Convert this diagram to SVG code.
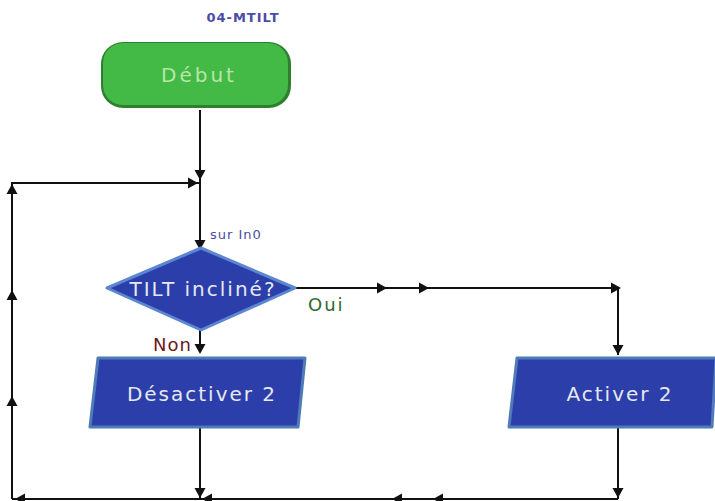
<svg xmlns="http://www.w3.org/2000/svg" width="715" height="501" viewBox="0 0 715 501">
  <style>
    .wire { fill: none; stroke: #111; stroke-width: 2; }
    .lbl { font-family: "DejaVu Sans", "Liberation Sans", sans-serif; }
    .node-text { font-family: "DejaVu Sans", "Liberation Sans", sans-serif; font-size: 20px; letter-spacing: 2px; fill: #e6e8f2; text-anchor: middle; }
    .proc { fill: #2b3ea9; stroke: #4f7bb8; stroke-width: 3; stroke-linejoin: round; }
  </style>
  <defs>
    <!-- arrowhead pointing right, tip at origin -->
    <path id="ah" d="M1,0 L-9,-5.5 L-9,5.5 Z" fill="#111"/>
  </defs>
  <rect width="715" height="501" fill="#ffffff"/>

  <!-- connectors -->
  <g id="connectors">
    <path class="wire" d="M200,110 V352"/>
    <path class="wire" d="M12,499 V183 H200"/>
    <path class="wire" d="M295,288 H618 V355"/>
    <path class="wire" d="M200,428 V499"/>
    <path class="wire" d="M618,428 V499"/>
    <path class="wire" d="M12,499 H618"/>
    <!-- arrowheads -->
    <use href="#ah" transform="translate(200,179) rotate(90)"/>
    <use href="#ah" transform="translate(197,183)"/>
    <use href="#ah" transform="translate(12,185) rotate(-90)"/>
    <use href="#ah" transform="translate(12,291) rotate(-90)"/>
    <use href="#ah" transform="translate(12,397) rotate(-90)"/>
    <use href="#ah" transform="translate(200,249) rotate(90)"/>
    <use href="#ah" transform="translate(200,353) rotate(90)"/>
    <use href="#ah" transform="translate(386,288)"/>
    <use href="#ah" transform="translate(428,288)"/>
    <use href="#ah" transform="translate(620,288)"/>
    <use href="#ah" transform="translate(618,354) rotate(90)"/>
    <use href="#ah" transform="translate(200,497) rotate(90)"/>
    <use href="#ah" transform="translate(618,497) rotate(90)"/>
    <use href="#ah" transform="translate(16,499) rotate(180)"/>
    <use href="#ah" transform="translate(203,499) rotate(180)"/>
    <use href="#ah" transform="translate(393,499) rotate(180)"/>
    <use href="#ah" transform="translate(434,499) rotate(180)"/>
  </g>

  <!-- start terminal -->
  <g id="start">
    <text class="lbl" x="243" y="22" font-size="13" font-weight="bold" letter-spacing="1" fill="#4b4ca6" text-anchor="middle">04-MTILT</text>
    <rect x="101" y="42" width="190" height="66" rx="22" fill="#2e7f2e"/>
    <rect x="103" y="43" width="185" height="62" rx="20" fill="#43b946"/>
    <text class="node-text" x="199" y="82" style="fill:#b8e6a6; letter-spacing:3px">Début</text>
  </g>

  <!-- decision -->
  <g id="decision">
    <text class="lbl" x="210" y="239" font-size="13" letter-spacing="1" fill="#4b4ca6">sur In0</text>
    <polygon points="201,248 295,288 201,330 107,288" fill="#2b3ea9" stroke="#5b86d0" stroke-width="3" stroke-linejoin="round"/>
    <text class="node-text" x="203" y="296">TILT incliné?</text>
    <text class="lbl" x="308" y="311" font-size="18" letter-spacing="2" fill="#2f6a2f">Oui</text>
    <text class="lbl" x="153" y="351" font-size="18" letter-spacing="1" fill="#6a1a1a">Non</text>
  </g>

  <!-- action: deactivate -->
  <g id="deactivate">
    <polygon class="proc" points="98,358 305,358 298,427 90,427"/>
    <text class="node-text" x="202" y="401">Désactiver 2</text>
  </g>

  <!-- action: activate -->
  <g id="activate">
    <polygon class="proc" points="517,358 716,358 712,427 509,427"/>
    <text class="node-text" x="620" y="401">Activer 2</text>
  </g>
</svg>
